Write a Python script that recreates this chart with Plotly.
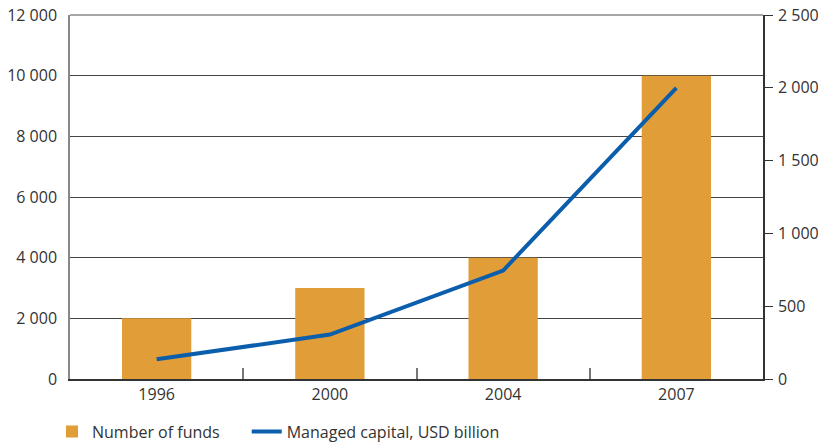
import plotly.graph_objects as go

years = ["1996", "2000", "2004", "2007"]
funds = [2000, 3000, 4000, 10000]
capital = [135, 305, 745, 2000]

ORANGE = "#e19d37"
BLUE = "#0a5eab"
TXT = "#333333"
FONT = "Open Sans"
FS = 16

fig = go.Figure()
fig.add_trace(go.Bar(x=years, y=funds, name="Number of funds", marker=dict(color=ORANGE, line=dict(width=0)),
                     width=0.4, yaxis="y", legend="legend"))
fig.add_trace(go.Scatter(x=years, y=capital, name="Managed capital, USD billion", mode="lines",
                         line=dict(color=BLUE, width=4), yaxis="y2", legend="legend2"))

leg_common = dict(orientation="h", xanchor="left", y=-0.098, yanchor="top",
                  font=dict(family=FONT, size=FS, color=TXT), itemwidth=30,
                  bgcolor="rgba(0,0,0,0)")

fig.update_layout(
    width=818, height=446,
    margin=dict(l=70, r=55, t=15, b=67, autoexpand=False),
    paper_bgcolor="white", plot_bgcolor="white",
    separators=". ",
    font=dict(family=FONT, size=FS, color=TXT),
    showlegend=True,
    legend=dict(x=-0.026, **leg_common),
    legend2=dict(x=0.255, **leg_common),
    xaxis=dict(type="category", range=[-0.5, 3.5], showline=True, linecolor="#333333", linewidth=1.5,
               ticks="inside", ticklen=11, tickcolor="#777777", tickwidth=1.5, tickson="boundaries",
               showgrid=False, automargin=False, tickfont=dict(size=FS, color=TXT)),
    yaxis=dict(range=[0, 12000], tickvals=[0, 2000, 4000, 6000, 8000, 10000, 12000], tickformat=",d",
               showline=True, linecolor="#888888", linewidth=1.5, ticks="", showgrid=True,
               gridcolor="#444444", gridwidth=1, zeroline=False, ticklabelstandoff=8, automargin=False,
               tickfont=dict(size=FS, color=TXT)),
    yaxis2=dict(range=[0, 2500], tickvals=[0, 500, 1000, 1500, 2000, 2500], tickformat=",d",
                overlaying="y", side="right", showline=True, linecolor="#333333", linewidth=1.5,
                ticks="outside", ticklen=8, tickcolor="#333333", showgrid=False, zeroline=False,
                ticklabelstandoff=2, automargin=False, tickfont=dict(size=FS, color=TXT)),
    shapes=[dict(type="line", xref="paper", yref="paper", x0=0, x1=1, y0=1, y1=1,
                 line=dict(color="#888888", width=1.5))],
)

fig.write_html("out.html", config={"displayModeBar": False},
               post_script="document.body.style.margin='0px';document.body.style.overflow='hidden';")
